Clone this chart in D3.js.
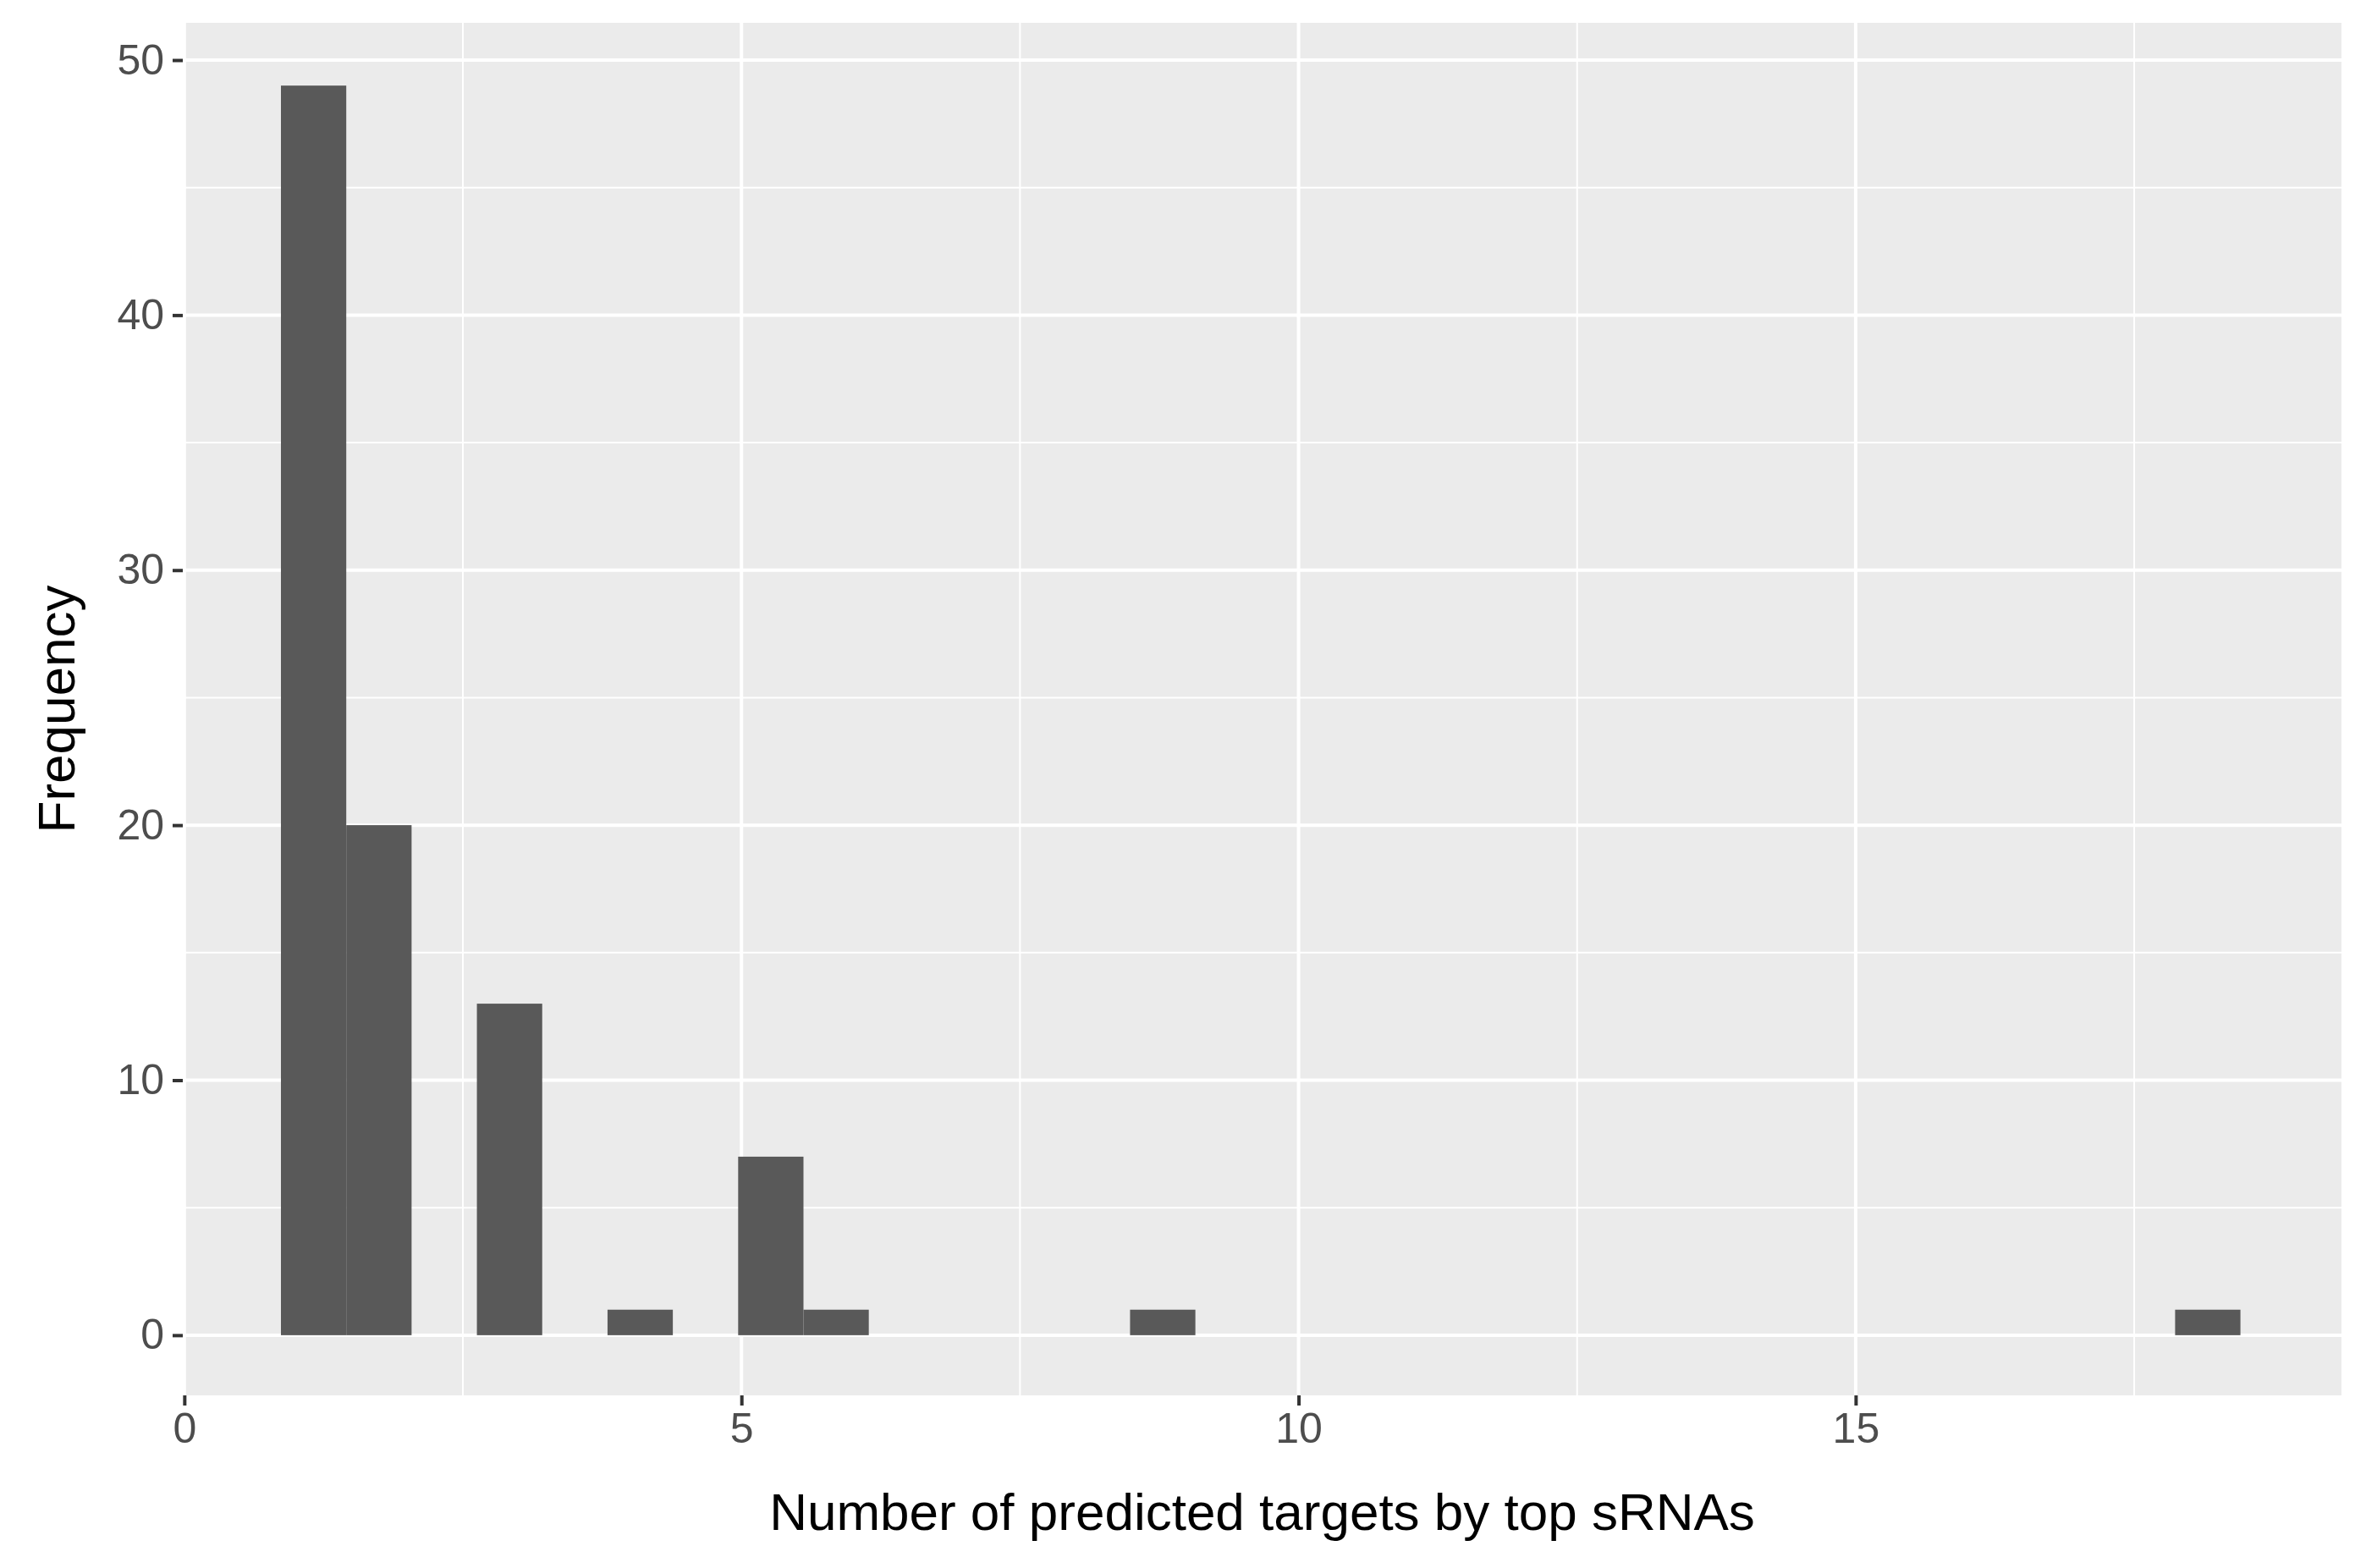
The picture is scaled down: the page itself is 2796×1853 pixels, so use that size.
<!DOCTYPE html><html><head><meta charset="utf-8">
<script src="https://cdn.jsdelivr.net/npm/d3@7"></script>
<style>body{margin:0;background:#fff}</style></head><body>
<svg id="c" width="2796" height="1853"></svg>
<script>
const values = [1, 2, 3, 4, 5, 6, 9, 18];
const counts = [49, 20, 13, 1, 7, 1, 1, 1];
const binStart = 0.867, binWidth = 17 / 29;
const xTicks = [0, 5, 10, 15], xMinor = [2.5, 7.5, 12.5, 17.5];
const yTicks = [0, 10, 20, 30, 40, 50], yMinor = [5, 15, 25, 35, 45];

const svg = d3.select("#c");
const L = 216, R = 2767, T = 27, B = 1649;
const x = d3.scaleLinear().domain([-0.014, 19.36]).range([L, R]);
const y = d3.scaleLinear().domain([-2.36, 51.46]).range([B, T]);
svg.append("rect").attr("x", L).attr("y", T).attr("width", R - L).attr("height", B - T).attr("fill", "#ebebeb");
const g = svg.append("g");
xMinor.forEach(v => g.append("line").attr("x1", x(v)).attr("x2", x(v)).attr("y1", T).attr("y2", B).attr("stroke", "#fff").attr("stroke-width", 2));
yMinor.forEach(v => g.append("line").attr("y1", y(v)).attr("y2", y(v)).attr("x1", L).attr("x2", R).attr("stroke", "#fff").attr("stroke-width", 2));
xTicks.forEach(v => g.append("line").attr("x1", x(v)).attr("x2", x(v)).attr("y1", T).attr("y2", B).attr("stroke", "#fff").attr("stroke-width", 4));
yTicks.forEach(v => g.append("line").attr("y1", y(v)).attr("y2", y(v)).attr("x1", L).attr("x2", R).attr("stroke", "#fff").attr("stroke-width", 4));
values.forEach((v, i) => {
  const k = Math.floor((v - binStart) / binWidth);
  const x0 = binStart + k * binWidth;
  svg.append("rect").attr("x", x(x0)).attr("width", x(x0 + binWidth) - x(x0))
    .attr("y", y(counts[i])).attr("height", y(0) - y(counts[i])).attr("fill", "#595959");
});
const xa = svg.append("g").attr("transform", `translate(0,${B})`).call(d3.axisBottom(x).tickValues(xTicks).tickSize(12).tickPadding(8));
const ya = svg.append("g").attr("transform", `translate(${L},0)`).call(d3.axisLeft(y).tickValues(yTicks).tickSize(12).tickPadding(10));
[xa, ya].forEach(a => {
  a.select(".domain").remove();
  a.selectAll("line").attr("stroke", "#333").attr("stroke-width", 4);
  a.selectAll("text").attr("fill", "#4d4d4d").style("font-family", "Liberation Sans, Arial, sans-serif").style("font-size", "50px");
});
svg.append("text").attr("x", (L + R) / 2).attr("y", 1808).attr("text-anchor", "middle")
  .style("font-family", "Liberation Sans, Arial, sans-serif").style("font-size", "62px").text("Number of predicted targets by top sRNAs");
svg.append("text").attr("transform", `translate(88,${(T + B) / 2}) rotate(-90)`).attr("text-anchor", "middle")
  .style("font-family", "Liberation Sans, Arial, sans-serif").style("font-size", "62px").text("Frequency");
</script></body></html>
